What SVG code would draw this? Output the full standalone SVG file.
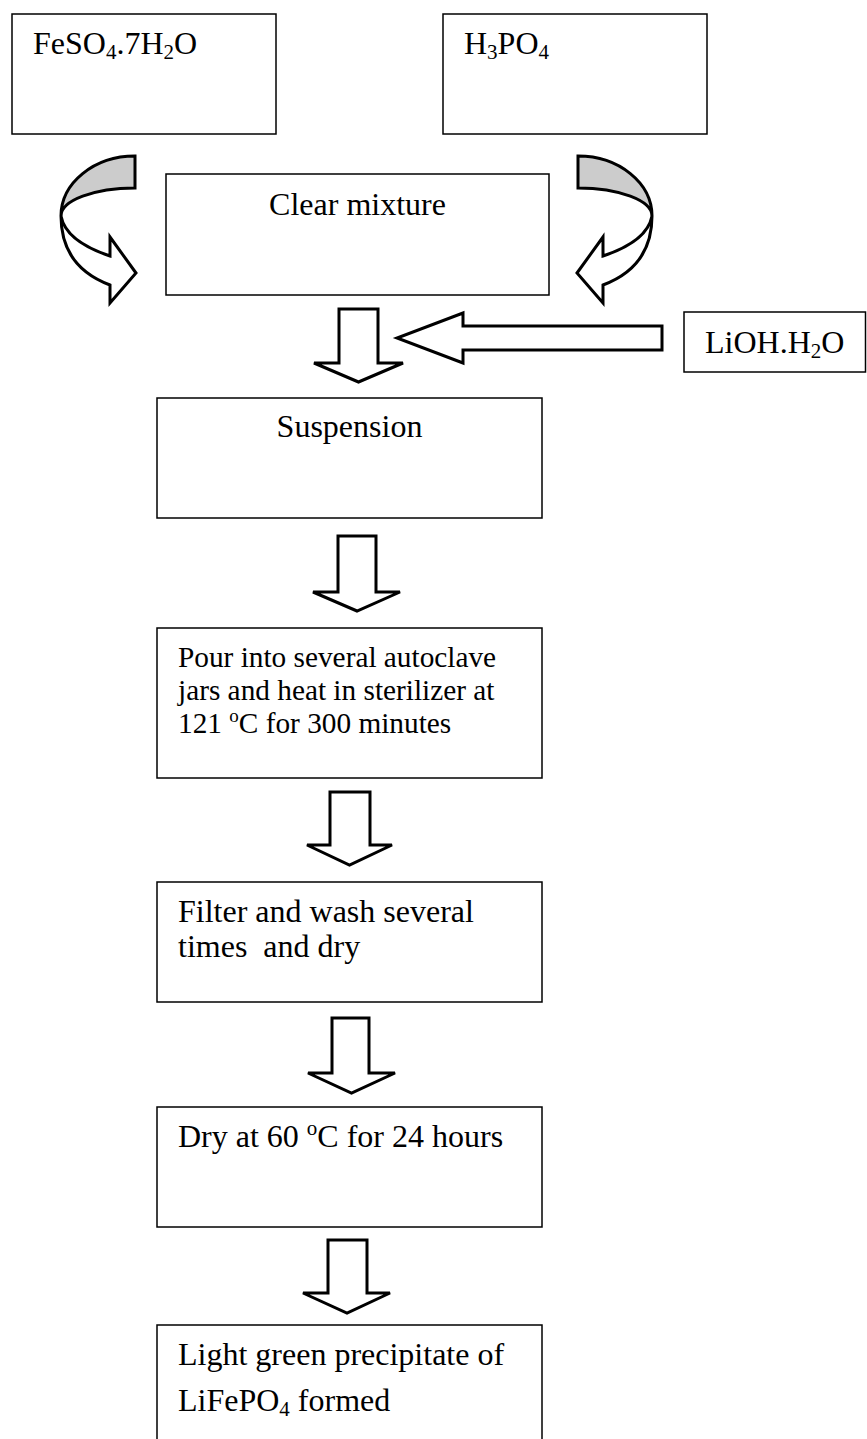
<svg xmlns="http://www.w3.org/2000/svg" width="867" height="1439" viewBox="0 0 867 1439">
<style>
.box{fill:#fff;stroke:#000;stroke-width:1.5}
.arr{fill:#fff;stroke:#000;stroke-width:3;stroke-linejoin:miter}
.shade{fill:#ccc;stroke:#000;stroke-width:3}
text{font-family:"Liberation Serif","Times New Roman",serif;font-size:32px;fill:#000}
.sm{font-size:29.3px}
</style>
<rect x="0" y="0" width="867" height="1439" fill="#fff"/>
<g id="connectors">
  <g id="curved-left">
    <path class="arr" d="M61,216 C61,250 78,273 110,285 L110,303 L136,273 L110,237 L110,256 C80,246 64,232 61,216 Z"/>
    <path class="shade" d="M135,156 A74,60 0 0 0 61,216 A74,28 0 0 1 135,188 Z"/>
  </g>
  <g id="curved-right" transform="translate(713,0) scale(-1,1)">
    <path class="arr" d="M61,216 C61,250 78,273 110,285 L110,303 L136,273 L110,237 L110,256 C80,246 64,232 61,216 Z"/>
    <path class="shade" d="M135,156 A74,60 0 0 0 61,216 A74,28 0 0 1 135,188 Z"/>
  </g>
  <polygon class="arr" points="662,326 463,326 463,313 397,338 463,363 463,350 662,350"/>
  <polygon class="arr" points="339,309 378,309 378,363 403,363 358.5,382 314,363 339,363"/>
  <polygon class="arr" points="338,536 376,536 376,592 400,592 357,611 313,592 338,592"/>
  <polygon class="arr" points="330,792 370,792 370,845 392,845 349.5,865 307,845 330,845"/>
  <polygon class="arr" points="332,1018 369,1018 369,1073 395,1073 351.5,1093 308,1073 332,1073"/>
  <polygon class="arr" points="328,1240 367,1240 367,1293 390,1293 347,1313 303,1293 328,1293"/>
</g>
<g id="feso4">
  <rect class="box" x="12" y="14" width="264" height="120"/>
  <text x="33" y="54">FeSO<tspan font-size="21" dy="5">4</tspan><tspan dy="-5">.7H</tspan><tspan font-size="21" dy="5">2</tspan><tspan dy="-5">O</tspan></text>
</g>
<g id="h3po4">
  <rect class="box" x="443" y="14" width="264" height="120"/>
  <text x="464" y="54">H<tspan font-size="21" dy="5">3</tspan><tspan dy="-5">PO</tspan><tspan font-size="21" dy="5">4</tspan></text>
</g>
<g id="clear-mixture">
  <rect class="box" x="166" y="174" width="383" height="121"/>
  <text x="357.5" y="215" text-anchor="middle">Clear mixture</text>
</g>
<g id="lioh">
  <rect class="box" x="684" y="312" width="181.5" height="60"/>
  <text x="705" y="353">LiOH.H<tspan font-size="21" dy="5">2</tspan><tspan dy="-5">O</tspan></text>
</g>
<g id="suspension">
  <rect class="box" x="157" y="398" width="385" height="120"/>
  <text x="349.5" y="437" text-anchor="middle">Suspension</text>
</g>
<g id="autoclave">
  <rect class="box" x="157" y="628" width="385" height="150"/>
  <text class="sm" x="178" y="667">Pour into several autoclave</text>
  <text class="sm" x="178" y="700">jars and heat in sterilizer at</text>
  <text class="sm" x="178" y="733">121 <tspan font-size="19" dy="-11">o</tspan><tspan dy="11">C for 300 minutes</tspan></text>
</g>
<g id="filter">
  <rect class="box" x="157" y="882" width="385" height="120"/>
  <text x="178" y="922">Filter and wash several</text>
  <text x="178" y="957" xml:space="preserve">times  and dry</text>
</g>
<g id="dry">
  <rect class="box" x="157" y="1107" width="385" height="120"/>
  <text x="178" y="1147">Dry at 60 <tspan font-size="21" dy="-12">o</tspan><tspan dy="12">C for 24 hours</tspan></text>
</g>
<g id="product">
  <rect class="box" x="157" y="1325" width="385" height="130"/>
  <text x="178" y="1365">Light green precipitate of</text>
  <text x="178" y="1411">LiFePO<tspan font-size="21" dy="5">4</tspan><tspan dy="-5"> formed</tspan></text>
</g>
</svg>
